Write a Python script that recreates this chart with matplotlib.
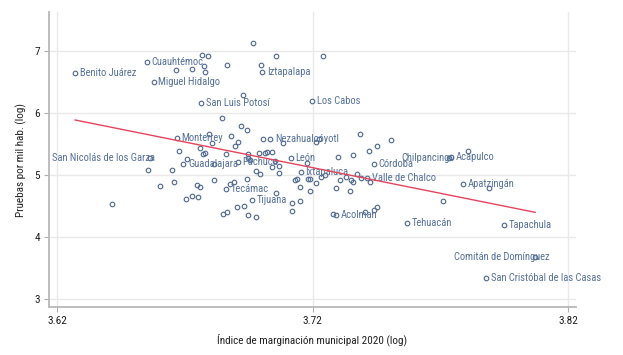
"""
Scatter of tests per thousand inhabitants vs. municipal marginalisation index
(both in logs), with labelled municipalities and a linear fit.
"""

import matplotlib

matplotlib.use("Agg")
import matplotlib.pyplot as plt


# unlabelled municipalities: log marginalisation index, log tests per 1000
other_x = [
    3.6666, 3.6727, 3.6765, 3.6791, 3.6775, 3.6777, 3.6865, 3.6967, 3.6996, 3.7056,
    3.6926, 3.7241, 3.6843, 3.6920, 3.6944, 3.6881, 3.6795, 3.6806, 3.6896, 3.6908,
    3.7005, 3.7083, 3.6760, 3.6676, 3.6770, 3.6777, 3.6860, 3.6948, 3.6988, 3.7012,
    3.7022, 3.7039, 3.6706, 3.6814, 3.6948, 3.6954, 3.7053, 3.7040, 3.7069, 3.7176,
    3.6554, 3.6648, 3.7069, 3.6977, 3.6993, 3.6602, 3.6656, 3.6748, 3.6757, 3.6813,
    3.6876, 3.6893, 3.6941, 3.7057, 3.6704, 3.6727, 3.6752, 3.6847, 3.6864, 3.6902,
    3.6932, 3.6948, 3.6978, 3.7117, 3.7150, 3.7119, 3.7130, 3.7137, 3.7149, 3.7182,
    3.7189, 3.7190, 3.7211, 3.7280, 3.7233, 3.7247, 3.7290, 3.7306, 3.7329, 3.7213,
    3.7224, 3.7385, 3.7450, 3.7506, 3.7420, 3.7356, 3.7300, 3.7372, 3.7389, 3.7351,
    3.7359, 3.7423, 3.7346, 3.7404, 3.7441, 3.7451, 3.7708, 3.7809, 3.7888, 3.6415,
]
other_y = [
    6.683, 6.709, 6.929, 6.908, 6.752, 6.661, 6.773, 7.127, 6.773, 6.913,
    6.286, 6.908, 5.912, 5.793, 5.723, 5.632, 5.654, 5.510, 5.471, 5.535,
    5.574, 5.519, 5.434, 5.391, 5.333, 5.354, 5.333, 5.333, 5.359, 5.349,
    5.375, 5.365, 5.252, 5.172, 5.268, 5.241, 5.230, 5.133, 5.145, 5.198,
    5.080, 5.076, 5.037, 5.064, 5.011, 4.828, 4.887, 4.834, 4.807, 4.915,
    4.860, 4.883, 4.931, 4.715, 4.619, 4.658, 4.641, 4.368, 4.405, 4.481,
    4.502, 4.357, 4.330, 4.555, 4.587, 4.426, 4.920, 4.941, 4.812, 4.931,
    4.931, 4.743, 4.867, 4.368, 4.963, 4.995, 4.791, 4.920, 4.973, 5.531,
    5.579, 5.654, 5.466, 5.558, 5.381, 5.326, 5.285, 5.011, 4.957, 4.915,
    4.883, 4.883, 4.743, 4.405, 4.437, 4.481, 4.587, 5.381, 4.791, 4.539,
]

# labelled municipalities
names = [
    "Benito Juárez", "Cuauhtémoc", "Miguel Hidalgo", "Iztapalapa", "San Luis Potosí",
    "Los Cabos", "Monterrey", "Nezahualcóyotl", "San Nicolás de los Garza", "Guadalajara",
    "Pachuca", "León", "Ixtapaluca", "Tecámac", "Tijuana",
    "Córdoba", "Valle de Chalco", "Chilpancingo", "Acapulco", "Apatzingán",
    "Acolman", "Tehuacán", "Tapachula", "Comitán de Domínguez", "San Cristóbal de las Casas",
]
named_x = [
    3.6270, 3.6550, 3.6577, 3.7002, 3.6764,
    3.7198, 3.6668, 3.7034, 3.6563, 3.6694,
    3.6906, 3.7115, 3.7153, 3.6859, 3.6962,
    3.7438, 3.7413, 3.7733, 3.7742, 3.7789,
    3.7292, 3.7570, 3.7948, 3.8070, 3.7878,
]
named_y = [
    6.635, 6.812, 6.487, 6.653, 6.150,
    6.190, 5.587, 5.574, 5.273, 5.177,
    5.214, 5.268, 5.043, 4.775, 4.598,
    5.169, 4.957, 5.268, 5.285, 4.859,
    4.352, 4.225, 4.193, 3.687, 3.339,
]

# linear fit (ends at min / max of the index)
fit_x = [3.6270, 3.8070]
fit_y = [5.884, 4.400]

# labels drawn to the left of their marker (text right end offset, px)
LEFT_LABELS = {"San Nicolás de los Garza": 5, "Chilpancingo": 5.5, "Comitán de Domínguez": 14}

MARKER = "#4d6891"
LABEL = "#56719a"
FONT = ["Roboto Condensed", "Liberation Sans Narrow", "Liberation Sans", "DejaVu Sans"]
FS = 7.6

plt.rcParams["font.family"] = FONT

fig = plt.figure(figsize=(6.23, 3.55), dpi=100)
ax = fig.add_axes([0.0787, 0.1352, 0.8459, 0.8310])

ax.plot(other_x + named_x, other_y + named_y, linestyle="none", marker="o",
        markersize=3.3, markerfacecolor="none", markeredgecolor=MARKER,
        markeredgewidth=0.8, zorder=3)

for n, x, y in zip(names, named_x, named_y):
    if n in LEFT_LABELS:
        ax.annotate(n, (x, y), xytext=(LEFT_LABELS[n] * 0.72, 0), textcoords="offset points",
                    ha="right", va="center", fontsize=FS, color=LABEL, zorder=4)
    else:
        ax.annotate(n, (x, y), xytext=(3.3, 0), textcoords="offset points",
                    ha="left", va="center", fontsize=FS, color=LABEL, zorder=4)

ax.plot(fit_x, fit_y, color="#e5455c", linewidth=1.0, zorder=5)

ax.set_xlim(3.6168, 3.823)
ax.set_ylim(2.878, 7.62)
ax.set_xticks([3.62, 3.72, 3.82])
ax.set_xticklabels(["3.62", "3.72", "3.82"])
ax.set_yticks([3, 4, 5, 6, 7])
ax.grid(True, color="#e9e9e9", linewidth=1.0)
ax.set_axisbelow(True)

for side in ("top", "right"):
    ax.spines[side].set_visible(False)
for side in ("left", "bottom"):
    ax.spines[side].set_color("#b8b8b8")
    ax.spines[side].set_linewidth(1.3)
ax.tick_params(axis="both", length=3.5, width=0.8, color="#b0b0b0",
               labelsize=FS + 0.6, labelcolor="#222222", pad=3)

ax.set_xlabel("Índice de marginación municipal 2020 (log)", fontsize=FS + 0.4, color="#222222", labelpad=5)
ax.set_ylabel("Pruebas por mil hab. (log)", fontsize=FS + 0.4, color="#222222", labelpad=5)

fig.savefig("out.png", dpi=100, facecolor="white")
